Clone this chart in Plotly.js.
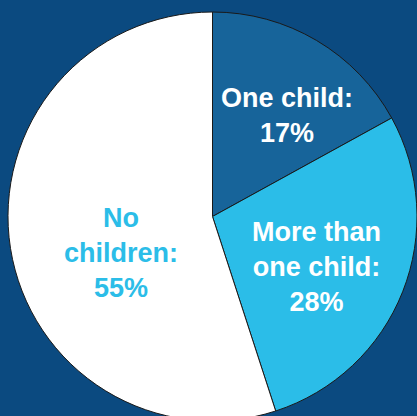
<!DOCTYPE html>
<html><head><meta charset="utf-8">
<script src="https://cdn.plot.ly/plotly-3.0.1.min.js"></script>
<style>html,body{margin:0;padding:0;overflow:hidden;background:#0b4a80;}</style>
</head><body><div id="chart"></div>
<script>
const categories = ["One child", "More than one child", "No children"];
const shares = [17, 28, 55];
const labelLines = ["One child:", "More than<br>one child:", "No<br>children:"];
const sliceColors = ["#17649a", "#2bbde8", "#ffffff"];
const textColors = ["#ffffff", "#ffffff", "#2bbde8"];
// label anchor points (paper fraction) for the in-slice labels
const labelX = [0.682, 0.7555, 0.276];
const labelY = [0.747, 0.3765, 0.4108];

const texts = labelLines.map((l, i) => l + "<br>" + shares[i] + "%");

Plotly.newPlot("chart", [{
  type: "pie",
  labels: categories,
  values: shares,
  textinfo: "none",
  sort: false,
  direction: "clockwise",
  rotation: 0,
  marker: {colors: sliceColors, line: {color: "#1a1a1a", width: 1}},
  hoverinfo: "none",
  showlegend: false
}], {
  width: 417, height: 421,
  margin: {l: 8, r: 0, t: 12, b: 0, pad: 0},
  paper_bgcolor: "#0b4a80",
  plot_bgcolor: "#0b4a80",
  showlegend: false,
  annotations: texts.map((t, i) => ({
    text: t, xref: "paper", yref: "paper", x: labelX[i], y: labelY[i],
    xanchor: "center", yanchor: "middle", showarrow: false, align: "center",
    font: {family: "Liberation Sans", size: 27, color: textColors[i], weight: 700}
  }))
}, {displayModeBar: false, staticPlot: true});
</script></body></html>
